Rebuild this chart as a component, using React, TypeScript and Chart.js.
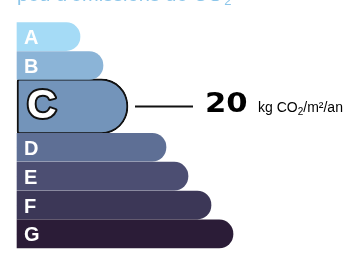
import React, { useEffect, useRef } from 'react';
import { Chart, registerables } from 'chart.js';

Chart.register(...registerables);

// ---- data ----
const classes = ['A', 'B', 'C', 'D', 'E', 'F', 'G'];
const barLengths = [63, 86, 111, 149, 171, 194, 216];
const classColors = ['#a5dbf6', '#8bb4d7', '#7394ba', '#5e6f95', '#4c4e72', '#3c3757', '#2b1c37'];
const highlightedClass = 'C';
const emissionValue = '20';
const unitMain = 'kg CO';
const unitSub = '2';
const unitRest = '/m²/an';
const topTextMain = "peu d'émissions de CO";
const topTextSub = '2';

const BAR_THICK = 28;
const HL_THICK = 55;
const SLOT_PX = 32.5;

const hlIndex = classes.indexOf(highlightedClass);
const extraGap = (HL_THICK - BAR_THICK) / 2 / SLOT_PX;
const positions = classes.map((_, i) => i + (i >= hlIndex ? extraGap : 0) + (i > hlIndex ? extraGap : 0));

const labelPlugin = {
  id: 'labelPlugin',
  afterDatasetsDraw(chart: any) {
    const ctx = chart.ctx as CanvasRenderingContext2D;
    ctx.save();
    // top text (partially cut off)
    ctx.fillStyle = '#8cc6ea';
    ctx.font = '20px "Liberation Sans", Arial, sans-serif';
    ctx.textBaseline = 'alphabetic';
    ctx.textAlign = 'left';
    ctx.fillText(topTextMain, 17, 1);
    const tw = ctx.measureText(topTextMain).width;
    ctx.font = '13px "Liberation Sans", Arial, sans-serif';
    ctx.fillText(topTextSub, 17 + tw + 1, 5);

    chart.data.datasets.forEach((ds: any, di: number) => {
      const meta = chart.getDatasetMeta(di);
      meta.data.forEach((el: any, i: number) => {
        if (ds.data[i] == null || ds.data[i].x == null) return;
        const cls = classes[i];
        const y = el.y;
        const base = el.base;
        if (cls === highlightedClass) {
          ctx.font = 'bold 41px "Liberation Sans", Arial, sans-serif';
          ctx.lineJoin = 'round';
          ctx.lineWidth = 4;
          ctx.strokeStyle = '#111';
          ctx.strokeText(cls, base + 10, y + 12);
          ctx.fillStyle = '#fff';
          ctx.fillText(cls, base + 10, y + 12);
          // connector line
          const right = el.x;
          ctx.strokeStyle = '#111';
          ctx.lineWidth = 2;
          ctx.beginPath();
          ctx.moveTo(right + 7, y);
          ctx.lineTo(right + 65, y);
          ctx.stroke();
          // value
          ctx.fillStyle = '#000';
          ctx.font = 'bold 26px "DejaVu Sans", Verdana, sans-serif';
          ctx.save();
          ctx.translate(right + 77, y + 6);
          ctx.scale(1.18, 1);
          ctx.fillText(emissionValue, 0, 0);
          ctx.restore();
          // unit
          let ux = right + 130;
          ctx.font = '14px "Liberation Sans", Arial, sans-serif';
          ctx.fillText(unitMain, ux, y + 6);
          ux += ctx.measureText(unitMain).width;
          ctx.font = '10px "Liberation Sans", Arial, sans-serif';
          ctx.fillText(unitSub, ux, y + 9);
          ux += ctx.measureText(unitSub).width;
          ctx.font = '14px "Liberation Sans", Arial, sans-serif';
          ctx.fillText(unitRest, ux, y + 6);
        } else {
          ctx.fillStyle = '#fff';
          ctx.font = 'bold 20px "Liberation Sans", Arial, sans-serif';
          ctx.fillText(cls, base + 7, y + 7.5);
        }
      });
    });
    ctx.restore();
  },
};

export default function App() {
  const ref = useRef<HTMLCanvasElement | null>(null);
  useEffect(() => {
    document.body.style.margin = '0';
    const normalData = classes.map((c, i) => ({ x: c === highlightedClass ? null : barLengths[i], y: positions[i] }));
    const hlData = classes.map((c, i) => ({ x: c === highlightedClass ? barLengths[i] : null, y: positions[i] }));
    const chart = new Chart(ref.current as HTMLCanvasElement, {
      type: 'bar',
      data: {
        datasets: [
          {
            data: normalData as any,
            backgroundColor: classColors,
            barThickness: BAR_THICK,
            borderRadius: 14,
            borderSkipped: 'start',
            grouped: false,
          } as any,
          {
            data: hlData as any,
            backgroundColor: classColors,
            barThickness: HL_THICK,
            borderColor: '#111',
            borderWidth: 2,
            borderSkipped: false,
            borderRadius: { topLeft: 3, bottomLeft: 3, topRight: 27, bottomRight: 27 },
            grouped: false,
          } as any,
        ],
      },
      options: {
        indexAxis: 'y',
        responsive: false,
        animation: false,
        layout: { padding: 0 },
        plugins: { legend: { display: false }, tooltip: { enabled: false }, title: { display: false } },
        scales: {
          x: { type: 'linear', min: -17, max: 336, display: false },
          y: { type: 'linear', reverse: true, min: -25 / SLOT_PX, max: (259 - 25) / SLOT_PX, display: false },
        },
      },
      plugins: [labelPlugin],
    });
    return () => chart.destroy();
  }, []);
  return (
    <div style={{ width: 353, height: 259, background: '#fff' }}>
      <canvas ref={ref} width={353} height={259} />
    </div>
  );
}
